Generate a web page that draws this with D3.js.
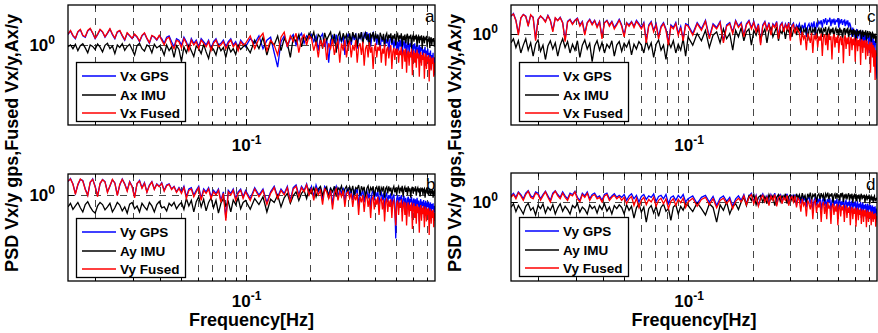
<!DOCTYPE html>
<html><head><meta charset="utf-8">
<script src="https://cdn.jsdelivr.net/npm/d3@7"></script>
<style>body{margin:0;background:#fff}svg{display:block;font-family:"Liberation Sans",Arial,Helvetica,sans-serif}</style>
</head><body><svg id="chart" width="878" height="333"></svg>
<script>
// ---------- data ----------
const freqRange = [0.0149, 0.762];   // Hz, plotted span
const splitFreq = 0.1;               // low part: log-spaced samples, high part: linear bins
const gridFreqs = [0.02,0.03,0.04,0.05,0.06,0.07,0.08,0.09,0.1,0.2,0.3,0.4,0.5,0.6,0.7];
const xTickValues = [0.1];
const yTickValues = [1];
const panelLetters = ["a","b","c","d"];
const legendX = ["Vx GPS","Ax IMU","Vx Fused"];
const legendY = ["Vy GPS","Ay IMU","Vy Fused"];
const xLabel = "Frequency[Hz]";
const yLabel = "PSD Vx/y gps,Fused Vx/y,Ax/y";
const seriesColors = ["#0000ff","#000000","#ff0000"];

// panel a
const aGPS_low = [1.35,1.5,1.3,1.2,1.45,1.55,1.3,1.25,1.5,1.6,1.4,1.2,1.35,1.55,1.45,1.25,1.4,1.58,1.35,1.2,1.45,1.5,1.3,1.15,1.4,1.3,1.2,1.35,1.25,1.1,1.3,1.4,1.2,1.05,1.3,1.25,1.15,1.3,
 1.2,1.05,1.25,1.3,1.1,0.95,1.2,1.15,1.0,1.25,1.1,0.9,1.2,1.05,1.15,0.95,1.2,1.1,1.0,1.15,0.9,1.1,1.2,1.0,1.05,1.15,0.95,1.1,1.2,1.0,1.1,0.9,1.15,1.05];
const aGPS_high = [0.95,1.2,1.05,1.3,0.9,1.15,1.25,0.8,0.53,1.1,1.3,0.95,1.2,1.35,1.0,1.25,1.4,1.05,1.3,1.2,
 1.35,1.1,1.3,0.85,1.25,1.38,0.95,1.2,0.6,1.15,1.3,1.05,1.35,0.9,1.25,1.1,1.3,0.75,1.2,1.35,
 1.25,1.0,1.35,1.15,1.4,0.9,1.3,1.2,1.45,1.05,1.38,1.25,1.45,1.1,1.4,0.95,1.3,1.42,1.15,1.35,1.0,1.3,1.2,0.85,1.25,1.1,1.3,0.95,1.2,1.05,1.25,0.8,1.15,1.25,1.0,1.2,0.9,1.1,1.2,0.85,
 1.1,0.85,1.15,0.95,1.2,0.75,1.05,1.1,0.9,1.15,0.7,1.0,1.1,0.8,1.05,0.95,1.12,0.65,1.0,0.9,1.05,0.75,0.95,1.0,0.7,0.9,1.0,0.6,0.95,0.85,0.92,0.65,0.88,0.8,0.95,0.55,0.85,0.75,0.9,0.6,0.8,0.7,0.85,0.5,0.75,0.65,0.8,0.45,0.7,0.42];
const aIMU_low = [0.95,1.0,0.9,1.02,0.85,0.98,1.04,0.92,0.8,1.0,0.96,0.88,1.03,0.94,0.82,0.99,1.05,0.9,0.97,0.78,1.0,0.93,1.04,0.86,0.96,1.02,0.88,0.75,0.98,1.05,0.9,0.84,1.0,0.95,0.8,1.02,0.92,0.97,
 0.9,0.75,1.0,0.85,0.95,0.7,0.98,0.88,0.62,0.95,0.8,1.0,0.85,0.72,0.97,0.9,0.78,1.02,0.82,0.68,0.95,0.88,0.75,1.0,0.85,0.93,0.7,0.98,0.82,0.9,0.76,1.0,0.88,0.95];
const aIMU_high = [1.0,0.8,1.15,0.9,1.25,0.75,1.1,1.0,1.3,0.85,1.2,1.05,0.7,1.25,1.1,1.35,0.95,1.3,1.15,1.4,
 1.2,1.45,1.0,1.35,1.25,0.9,1.42,1.15,1.3,1.45,1.05,1.38,0.8,1.3,1.45,1.1,1.4,1.2,1.35,0.95,
 1.4,1.1,1.45,1.25,1.35,0.95,1.4,1.2,1.45,1.05,1.3,1.42,1.15,1.38,0.9,1.35,1.25,1.45,1.1,1.4,1.2,1.35,1.0,1.42,1.28,1.15,1.38,0.95,1.3,1.4,1.1,1.35,1.22,1.4,1.05,1.32,1.2,1.38,1.0,1.3,
 1.38,1.1,1.32,1.2,1.4,0.95,1.3,1.15,1.35,1.05,1.28,1.38,1.0,1.3,1.2,1.35,0.9,1.25,1.32,1.1,1.3,1.18,1.35,0.95,1.25,1.3,1.05,1.28,1.15,1.32,0.9,1.2,1.3,1.05,1.25,1.15,1.3,0.95,1.2,1.1,1.28,0.92,1.18,1.25,1.0,1.2,1.1,1.22,0.95,1.15];
const aFused_low = [1.37,1.52,1.32,1.22,1.47,1.57,1.32,1.27,1.52,1.62,1.42,1.22,1.37,1.57,1.47,1.27,1.42,1.6,1.37,1.22,1.47,1.52,1.32,1.17,1.42,1.32,1.22,1.37,1.27,1.12,1.32,1.42,1.22,1.07,1.32,1.27,1.17,1.32,
 1.15,1.0,1.2,1.25,1.0,0.9,1.15,1.1,0.92,1.2,1.05,0.85,1.15,1.0,1.1,0.9,1.15,1.05,0.95,1.1,0.85,1.05,1.15,0.95,1.0,1.1,0.9,1.05,1.15,0.95,1.05,0.85,1.1,1.0];
const aFused_high = [1.05,1.3,0.9,1.2,1.4,0.85,1.15,1.0,0.75,1.25,1.45,0.95,1.3,1.1,1.4,0.8,1.2,1.35,1.0,1.3,
 1.2,0.85,1.1,0.7,1.15,0.95,1.2,0.65,1.05,0.9,1.18,0.75,1.0,1.12,0.6,1.05,0.85,1.15,0.7,1.0,
 1.1,0.7,1.0,0.85,1.15,0.6,0.95,1.05,0.75,1.1,0.55,0.9,1.0,0.7,1.08,0.8,0.95,0.5,0.9,1.05,0.7,0.95,0.85,1.0,0.6,0.9,0.78,1.02,0.55,0.88,0.95,0.68,0.85,1.0,0.5,0.82,0.92,0.65,0.9,0.75,
 0.9,0.6,0.85,0.75,0.95,0.5,0.8,0.88,0.62,0.9,0.45,0.78,0.85,0.55,0.82,0.7,0.9,0.42,0.75,0.85,0.6,0.8,0.52,0.88,0.68,0.78,0.4,0.72,0.82,0.55,0.75,0.65,0.8,0.38,0.7,0.78,0.5,0.72,0.62,0.75,0.35,0.65,0.72,0.48,0.68,0.58,0.7,0.4,0.6,0.45];

// panel b
const bGPS_low = [1.5,1.65,1.4,1.05,1.35,1.6,1.55,1.2,1.0,1.45,1.62,1.3,0.98,1.4,1.6,1.5,1.1,1.3,1.58,1.45,1.0,1.35,1.62,1.4,1.15,1.5,1.3,0.95,1.4,1.55,1.25,1.45,1.1,1.35,1.5,1.2,1.4,1.3,1.45,1.15,1.35,1.4,1.2,1.3,1.1,1.25,
 1.1,1.3,0.95,1.2,1.25,1.0,1.15,1.3,0.9,1.2,1.1,1.25,0.95,1.15,1.05,1.2,0.85,1.1,0.5,1.15,1.05,1.2,0.9,1.1,1.2,0.95];
const bGPS_high = [1.15,0.9,1.25,1.0,1.2,0.8,1.1,1.3,0.95,1.2,1.05,1.3,0.85,1.25,1.35,1.0,1.3,1.15,1.4,1.05,
 1.3,0.95,1.35,1.1,1.25,0.85,1.3,1.2,1.0,1.25,0.75,1.15,1.3,0.95,1.2,1.05,1.25,0.8,1.15,1.2,
 1.0,1.2,0.85,1.15,1.05,1.22,0.7,1.1,1.0,1.18,0.8,1.05,1.15,0.9,1.1,0.65,1.05,1.15,0.85,1.1,0.95,1.12,0.75,1.0,1.08,0.85,1.05,0.6,0.98,1.05,0.8,1.0,0.9,1.05,0.7,0.95,1.0,0.78,0.27,0.9,
 1.0,0.75,0.95,0.85,1.0,0.6,0.9,0.98,0.72,0.92,0.55,0.88,0.95,0.7,0.9,0.8,0.95,0.5,0.85,0.9,0.68,0.88,0.6,0.92,0.75,0.85,0.45,0.8,0.88,0.62,0.82,0.72,0.86,0.5,0.78,0.84,0.6,0.8,0.7,0.82,0.48,0.75,0.8,0.58,0.76,0.66,0.78,0.5,0.72,0.6];
const bIMU_low = [0.7,0.78,0.65,0.72,0.8,0.68,0.6,0.75,0.82,0.7,0.62,0.58,0.72,0.8,0.75,0.64,0.7,0.78,0.6,0.68,0.8,0.74,0.62,0.7,0.58,0.76,0.8,0.66,0.72,0.6,0.78,0.7,0.64,0.8,0.72,0.6,0.75,0.82,0.68,0.7,0.62,0.78,0.72,0.8,0.66,0.74,
 0.8,0.65,0.9,0.72,0.85,0.6,0.82,0.95,0.7,0.88,0.62,0.8,0.92,0.68,0.85,0.58,0.78,0.9,0.72,0.82,0.6,0.86,0.75,0.92,0.66,0.8];
const bIMU_high = [0.85,0.65,0.9,0.75,0.95,0.6,0.88,0.8,1.0,0.7,0.92,1.05,0.78,0.98,1.1,0.85,1.05,1.15,0.9,1.2,
 1.05,1.25,0.95,1.2,1.3,1.0,1.15,1.28,0.9,1.22,1.1,1.3,0.95,1.25,1.15,1.32,1.0,1.2,1.3,1.05,
 1.28,1.1,1.32,0.95,1.25,1.2,1.35,1.0,1.3,1.15,1.28,0.9,1.22,1.32,1.05,1.25,1.15,1.3,0.95,1.2,1.28,1.1,1.32,1.0,1.25,1.15,1.3,0.92,1.22,1.28,1.05,1.3,1.12,1.25,0.98,1.2,1.3,1.08,1.25,1.0,
 1.22,1.3,1.05,1.25,1.15,1.32,0.95,1.2,1.28,1.1,1.25,1.0,1.3,1.15,1.22,0.92,1.2,1.28,1.05,1.22,1.12,1.3,0.98,1.18,1.25,1.08,1.22,0.95,1.2,1.15,1.25,1.0,1.18,1.22,0.92,1.15,1.2,1.05,1.18,0.98,1.12,1.2,1.0,1.15,1.08,1.18,0.92,1.1,1.15,1.0];
const bFused_low = [1.52,1.62,1.38,1.02,1.38,1.62,1.52,1.18,0.98,1.48,1.6,1.28,0.95,1.42,1.58,1.48,1.08,1.32,1.6,1.42,0.98,1.38,1.6,1.38,1.12,1.48,1.28,0.92,1.42,1.52,1.22,1.42,1.08,1.32,1.48,1.18,1.38,1.28,1.42,1.12,1.32,1.38,1.18,1.28,1.08,1.22,
 1.05,1.25,0.9,1.15,1.2,0.95,1.1,1.25,0.85,1.15,1.05,1.2,0.9,1.1,1.0,1.15,0.8,1.05,0.46,1.1,1.0,1.15,0.85,1.05,1.15,0.9];
const bFused_high = [1.1,0.85,1.2,0.95,1.15,0.75,1.05,1.25,0.9,1.15,1.0,1.25,0.8,1.2,1.3,0.95,1.25,1.1,1.35,1.0,
 1.2,0.85,1.25,1.0,1.15,0.75,1.2,1.1,0.9,1.15,0.65,1.05,1.2,0.85,1.1,0.95,1.15,0.7,1.05,1.1,
 0.9,1.05,0.7,1.0,0.85,1.05,0.55,0.95,0.8,1.0,0.6,0.9,0.98,0.7,0.92,0.5,0.88,0.95,0.65,0.9,0.75,0.95,0.55,0.85,0.9,0.65,0.88,0.45,0.8,0.9,0.6,0.85,0.7,0.88,0.5,0.8,0.85,0.62,0.4,0.78,
 0.85,0.55,0.8,0.68,0.88,0.45,0.75,0.82,0.55,0.8,0.4,0.72,0.8,0.52,0.75,0.62,0.8,0.36,0.7,0.78,0.5,0.72,0.42,0.76,0.58,0.7,0.32,0.66,0.74,0.46,0.68,0.56,0.72,0.38,0.64,0.7,0.45,0.66,0.55,0.68,0.3,0.6,0.66,0.42,0.62,0.5,0.64,0.38,0.58,0.46];

// panel c
const cGPS_low = [1.7,1.85,1.5,1.0,1.6,1.8,1.7,1.3,1.75,1.65,0.85,1.55,1.7,1.6,1.45,1.75,1.5,1.1,1.6,1.5,1.65,1.4,0.82,1.45,1.55,1.35,1.5,1.6,1.3,1.45,1.0,1.4,1.55,1.35,1.5,1.25,1.45,0.9,1.4,1.5,1.3,1.45,1.2,1.35,1.55,1.3,0.95,1.4,1.3,1.45,1.25,1.5,1.35,
 1.2,1.4,0.8,1.3,1.45,1.1,1.35,0.9,1.25,1.4,1.15,0.75,1.3,1.2,1.4,1.0,1.25,0.85,1.35];
const cGPS_high = [1.3,1.0,1.4,1.15,1.5,0.9,1.35,1.2,1.45,0.8,1.3,1.4,1.05,1.5,1.25,1.4,0.95,1.35,1.5,1.2,1.45,1.1,1.35,0.75,1.3,1.45,1.15,1.4,1.0,1.35,1.25,1.45,0.9,1.3,1.4,1.1,1.35,1.2,1.42,0.85,1.3,1.38,1.05,1.3,1.2,
 1.35,1.0,1.3,1.15,1.4,0.9,1.25,1.35,1.1,1.4,1.2,1.45,0.95,1.35,1.25,1.45,
 1.35,1.5,1.2,1.55,1.4,1.6,1.3,1.5,1.45,1.62,1.25,1.55,1.4,1.58,1.3,1.5,1.45,1.6,1.2,1.5,1.4,1.55,1.3,1.45,1.5,1.25,1.45,1.35,1.5,1.2,1.4,1.3,
 1.15,0.9,1.2,1.0,1.1,0.75,1.05,1.15,0.85,1.05,0.95,1.1,0.7,1.0,1.05,0.8,1.0,0.65,0.95,1.02,0.75,0.9,0.85,0.98,0.55,0.88,0.95,0.7,0.85,0.6,0.9,0.45,0.8,0.7,0.82,0.35,0.25];
const cIMU_low = [0.75,0.85,0.65,0.8,0.55,0.7,0.85,0.6,0.75,0.5,0.72,0.82,0.58,0.7,0.45,0.68,0.8,0.62,0.75,0.5,0.7,0.85,0.65,0.78,0.55,0.72,0.6,0.8,0.48,0.7,0.82,0.62,0.74,0.42,0.68,0.8,0.6,0.76,0.55,0.72,0.64,0.8,0.5,0.7,0.78,0.58,0.74,0.66,0.8,0.52,0.72,0.62,0.78,
 0.7,0.55,0.8,0.62,0.75,0.48,0.72,0.82,0.6,0.7,0.45,0.78,0.65,0.8,0.55,0.72,0.6,0.85,0.5];
const cIMU_high = [0.9,0.7,1.0,0.8,1.1,0.65,0.95,1.05,0.75,1.15,0.85,1.0,0.6,1.1,0.9,1.2,0.8,1.05,1.15,0.7,1.1,0.95,1.2,0.85,1.0,1.15,0.75,1.1,1.2,0.9,1.05,1.22,0.8,1.1,1.0,1.2,0.85,1.15,1.05,1.22,0.9,1.1,1.18,0.95,1.2,
 1.1,1.22,0.9,1.15,1.05,1.2,0.8,1.12,1.2,0.95,1.15,1.05,1.22,0.85,1.1,1.18,1.0,1.2,0.9,1.15,1.08,1.22,0.82,1.12,1.2,0.95,1.15,1.05,1.2,0.88,1.1,1.18,1.0,1.15,0.92,1.2,1.05,1.12,0.8,1.1,1.18,0.95,1.12,1.05,1.2,0.85,1.08,1.15,0.98,1.12,0.9,1.15,1.02,1.1,0.78,1.05,1.12,0.92,1.08,1.0,1.12,0.82,1.02,1.1,0.9,1.05,0.95,1.1,0.8,1.0,1.08,0.88,1.02,0.95,1.05,0.78,0.98,1.02,0.85,0.95,0.9,1.0,0.75,0.92,0.88];
const cFused_low = [1.72,1.82,1.48,0.95,1.62,1.78,1.68,1.25,1.78,1.62,0.8,1.52,1.72,1.58,1.42,1.72,1.48,1.05,1.62,1.48,1.62,1.38,0.78,1.42,1.52,1.32,1.48,1.58,1.25,1.42,0.95,1.38,1.52,1.3,1.48,1.2,1.42,0.85,1.38,1.48,1.25,1.42,1.15,1.3,1.5,1.25,0.9,1.38,1.25,1.42,1.2,1.45,1.3,
 1.15,1.35,0.75,1.25,1.4,1.05,1.3,0.85,1.2,1.35,1.1,0.7,1.25,1.15,1.35,0.95,1.2,0.8,1.3];
const cFused_high = [1.25,0.95,1.35,1.1,1.45,0.85,1.3,1.15,1.4,0.75,1.25,1.35,1.0,1.45,1.2,1.35,0.9,1.3,1.45,1.15,1.4,1.05,1.3,0.7,1.25,1.4,1.1,1.35,0.95,1.3,1.2,1.4,0.85,1.25,1.35,1.05,1.3,1.15,1.38,0.8,1.25,1.32,1.0,1.2,1.1,
 1.0,0.7,1.05,0.85,0.95,0.6,1.0,0.9,0.75,1.02,0.55,0.95,0.85,1.0,0.65,0.92,0.8,1.0,0.5,0.9,0.98,0.7,0.95,0.6,1.0,0.82,0.92,0.45,0.88,0.98,0.65,0.9,0.75,0.95,0.55,0.85,0.92,0.7,0.88,0.4,0.85,0.95,0.62,0.88,0.72,0.9,0.5,0.82,0.9,0.6,0.85,0.7,0.88,0.42,0.8,0.86,0.58,0.82,0.68,0.85,0.38,0.78,0.84,0.55,0.8,0.65,0.82,0.45,0.75,0.8,0.5,0.72,0.6,0.78,0.3,0.7,0.76,0.48,0.7,0.36,0.65,0.24,0.6,0.5,0.55];

// panel d
const dGPS_low = [1.2,1.3,1.15,1.35,1.25,1.1,1.3,1.4,1.2,1.15,1.35,1.3,1.1,1.25,1.38,1.2,1.05,1.3,1.4,1.25,1.15,1.35,1.2,1.1,1.3,1.25,1.38,1.15,1.05,1.3,1.2,1.35,1.1,1.25,1.3,1.15,1.2,1.05,1.25,1.3,1.1,1.2,1.28,1.15,1.22,
 1.15,1.25,1.05,1.2,1.28,1.1,1.22,1.0,1.18,1.25,1.08,1.2,1.15,1.27,1.02,1.18,1.22,1.1,1.25,0.95,1.15,1.2,1.05,1.22,1.12,1.25,1.0];
const dGPS_high = [1.1,1.2,0.95,1.15,1.22,1.0,1.18,0.9,1.12,1.2,1.02,1.15,0.88,1.1,1.2,
 1.05,1.25,0.95,1.2,1.3,1.0,1.22,0.9,1.15,1.28,1.05,1.2,0.95,1.25,1.1,1.3,0.92,1.18,1.25,1.0,1.2,1.1,1.28,0.95,1.15,1.22,1.05,1.25,0.9,1.2,
 1.15,0.95,1.2,1.05,1.15,0.85,1.1,1.18,0.95,1.12,0.8,1.05,1.15,0.9,1.1,1.0,1.15,0.78,1.05,1.12,0.9,1.08,0.82,1.1,0.98,1.12,0.75,1.05,1.1,0.88,1.05,0.95,1.1,0.72,1.0,1.08,0.85,1.02,0.92,1.08,0.7,1.0,1.05,0.82,1.0,0.9,1.05,0.68,0.98,1.02,0.8,0.98,0.88,1.02,0.65,0.95,1.0,0.78,0.95,0.85,1.0,0.62,0.92,0.98,0.75,0.92,0.82,0.95,0.6,0.88,0.95,0.72,0.9,0.8,0.92,0.58,0.85,0.9,0.7,0.86,0.62,0.88,0.55,0.82,0.7];
const dIMU_low = [0.85,0.95,0.75,0.9,0.8,0.7,0.88,0.96,0.78,0.85,0.68,0.9,0.82,0.94,0.72,0.86,0.78,0.92,0.7,0.84,0.95,0.76,0.88,0.8,0.7,0.9,0.84,0.96,0.74,0.86,0.8,0.7,0.92,0.82,0.88,0.72,0.9,0.8,0.95,0.76,0.86,0.7,0.9,0.82,0.92,
 0.85,0.7,0.92,0.78,0.88,0.62,0.84,0.95,0.74,0.86,0.55,0.82,0.9,0.72,0.88,0.65,0.85,0.94,0.76,0.82,0.58,0.86,0.92,0.7,0.88,0.78,0.95];
const dIMU_high = [0.9,0.75,0.98,0.82,0.68,0.95,0.85,0.55,0.92,0.78,1.0,0.7,0.88,0.95,0.8,
 1.0,1.15,0.9,1.2,1.05,1.25,0.92,1.15,1.22,1.0,1.18,0.95,1.25,1.08,1.2,0.9,1.15,1.25,1.02,1.2,1.1,1.28,0.95,1.18,1.25,1.05,1.2,0.98,1.28,1.12,
 1.25,1.05,1.3,1.12,1.22,0.98,1.28,1.15,1.32,1.05,1.25,1.18,1.3,1.0,1.22,1.28,1.1,1.3,1.15,1.25,1.02,1.28,1.18,1.32,1.08,1.25,1.2,1.3,0.98,1.22,1.28,1.1,1.3,1.15,1.25,1.05,1.3,1.2,1.32,1.0,1.25,1.15,1.28,1.08,1.22,1.3,1.05,1.25,1.15,1.28,0.98,1.2,1.25,1.1,1.28,1.02,1.22,1.15,1.25,1.0,1.2,1.28,1.08,1.22,1.12,1.25,0.98,1.18,1.22,1.05,1.2,1.1,1.25,0.95,1.15,1.2,1.05,1.18,1.0,1.15,1.2,1.02,1.12,1.05,1.15];
const dFused_low = [1.15,1.25,1.1,1.32,1.2,1.05,1.25,1.38,1.15,1.1,1.3,1.25,1.05,1.2,1.35,1.15,1.0,1.25,1.38,1.2,1.1,1.3,1.15,1.05,1.25,1.2,1.35,1.1,1.0,1.25,1.15,1.3,1.05,1.2,1.25,1.1,1.15,1.0,1.2,1.25,1.05,1.15,1.22,1.1,1.18,
 1.05,1.15,0.95,1.1,1.18,0.9,1.12,0.85,1.05,1.15,0.92,1.08,1.0,1.15,0.88,1.05,1.12,0.95,1.1,0.82,1.02,1.1,0.9,1.08,0.98,1.12,0.85];
const dFused_high = [1.0,1.12,0.88,1.08,1.15,0.92,1.1,0.84,1.05,1.12,0.95,1.08,0.82,1.02,1.12,
 1.0,1.2,0.92,1.15,1.25,0.95,1.18,0.88,1.1,1.22,1.0,1.15,0.9,1.2,1.05,1.25,0.88,1.12,1.2,0.95,1.15,1.05,1.22,0.9,1.1,1.18,1.0,1.2,0.85,1.12,
 1.05,0.75,1.1,0.9,1.0,0.65,1.05,0.95,0.8,1.08,0.6,0.98,1.05,0.72,0.95,0.85,1.02,0.55,0.92,1.0,0.7,0.95,0.6,1.0,0.82,0.9,0.52,0.88,0.96,0.68,0.9,0.75,0.95,0.5,0.85,0.92,0.65,0.88,0.78,0.92,0.55,0.82,0.9,0.62,0.85,0.72,0.88,0.5,0.8,0.86,0.6,0.82,0.7,0.85,0.48,0.78,0.84,0.58,0.8,0.68,0.82,0.52,0.75,0.8,0.55,0.78,0.65,0.8,0.47,0.72,0.78,0.55,0.74,0.62,0.76,0.5,0.7,0.75,0.55,0.7,0.6,0.72,0.48,0.66,0.6];

// ---------- layout ----------
const panels = [
  {id:"a", x0:68,  x1:435, y0:5,   y1:125, yLog:[-1,0.5],       series:[[aGPS_low,aGPS_high],[aIMU_low,aIMU_high],[aFused_low,aFused_high]], legend:legendX, letter:panelLetters[0], lx:425, ly:22,  showXLabel:false},
  {id:"b", x0:68,  x1:435, y0:174, y1:281, yLog:[-1.125,0.275], series:[[bGPS_low,bGPS_high],[bIMU_low,bIMU_high],[bFused_low,bFused_high]], legend:legendY, letter:panelLetters[1], lx:426, ly:190, showXLabel:true},
  {id:"c", x0:511, x1:877, y0:5,   y1:125, yLog:[-1.22,0.38],   series:[[cGPS_low,cGPS_high],[cIMU_low,cIMU_high],[cFused_low,cFused_high]], legend:legendX, letter:panelLetters[2], lx:867, ly:22,  showXLabel:false},
  {id:"d", x0:511, x1:877, y0:173, y1:281, yLog:[-1.024,0.376], series:[[dGPS_low,dGPS_high],[dIMU_low,dIMU_high],[dFused_low,dFused_high]], legend:legendY, letter:panelLetters[3], lx:866, ly:190, showXLabel:true}
];

const svg = d3.select("#chart");
const defs = svg.append("defs");
const lf0 = Math.log10(freqRange[0]), lfs = Math.log10(splitFreq);

function toPoints(low, high) {
  const pts = low.map((v,i) => [Math.pow(10, lf0 + (lfs-lf0)*i/low.length), v]);
  const m = high.length;
  high.forEach((v,i) => pts.push([splitFreq + (freqRange[1]-splitFreq)*i/(m-1), v]));
  return pts;
}

panels.forEach(p => {
  const x = d3.scaleLog().domain(freqRange).range([p.x0, p.x1]);
  const y = d3.scaleLog().domain(p.yLog.map(e=>Math.pow(10,e))).range([p.y1, p.y0]);
  const g = svg.append("g");

  defs.append("clipPath").attr("id","clip-"+p.id)
    .append("rect").attr("x",p.x0).attr("y",p.y0).attr("width",p.x1-p.x0).attr("height",p.y1-p.y0);

  // dashed grid
  g.append("g").selectAll("line").data(gridFreqs).join("line")
    .attr("x1",d=>Math.round(x(d))+0.5).attr("x2",d=>Math.round(x(d))+0.5)
    .attr("y1",p.y0).attr("y2",p.y1)
    .attr("stroke","#333").attr("stroke-width",0.9).attr("stroke-dasharray","7,6");
  g.append("g").selectAll("line").data(yTickValues).join("line")
    .attr("x1",p.x0).attr("x2",p.x1)
    .attr("y1",d=>Math.round(y(d))+0.5).attr("y2",d=>Math.round(y(d))+0.5)
    .attr("stroke","#333").attr("stroke-width",0.9).attr("stroke-dasharray","7,6");

  // series
  const lines = g.append("g").attr("clip-path","url(#clip-"+p.id+")");
  const lineGen = d3.line().x(d=>x(d[0])).y(d=>y(d[1]));
  p.series.forEach((s, k) => {
    lines.append("path").datum(toPoints(s[0], s[1]))
      .attr("fill","none").attr("stroke",seriesColors[k]).attr("stroke-width",1.3)
      .attr("stroke-linejoin","miter").attr("d", lineGen);
  });

  // inward ticks
  const tk = g.append("g").attr("stroke","#000").attr("stroke-width",1);
  gridFreqs.forEach(f => {
    const len = xTickValues.includes(f) ? 6 : 3.5;
    const xx = Math.round(x(f))+0.5;
    tk.append("line").attr("x1",xx).attr("x2",xx).attr("y1",p.y1).attr("y2",p.y1-len);
    tk.append("line").attr("x1",xx).attr("x2",xx).attr("y1",p.y0).attr("y2",p.y0+len);
  });
  yTickValues.forEach(v => {
    const yy = Math.round(y(v))+0.5;
    tk.append("line").attr("x1",p.x0).attr("x2",p.x0+6).attr("y1",yy).attr("y2",yy);
    tk.append("line").attr("x1",p.x1).attr("x2",p.x1-6).attr("y1",yy).attr("y2",yy);
  });

  // box
  g.append("rect").attr("x",p.x0).attr("y",p.y0).attr("width",p.x1-p.x0).attr("height",p.y1-p.y0)
    .attr("fill","none").attr("stroke","#000").attr("stroke-width",1.3);

  // y tick labels
  yTickValues.forEach(v => {
    const t = g.append("text").attr("x",p.x0-13).attr("y",y(v)+6)
      .attr("text-anchor","end").attr("font-size",17).attr("font-weight","bold");
    t.append("tspan").text("10");
    t.append("tspan").attr("font-size",12).attr("dy",-7).text(Math.round(Math.log10(v)));
  });
  // x tick labels
  xTickValues.forEach(f => {
    const t = g.append("text").attr("x",x(f)+1).attr("y",p.y1+26)
      .attr("text-anchor","middle").attr("font-size",17).attr("font-weight","bold");
    t.append("tspan").text("10");
    t.append("tspan").attr("font-size",12).attr("dy",-7).text(Math.round(Math.log10(f)));
  });

  // panel letter
  g.append("text").attr("x",p.lx).attr("y",p.ly).attr("font-size",17).text(p.letter);

  // legend
  const lgX = p.x0 + 8, lgY = (p.y1-p.y0 === 120) ? p.y0 + 57 : p.y0 + 44;
  const lg = g.append("g");
  lg.append("rect").attr("x",lgX+0.5).attr("y",lgY+0.5).attr("width",109).attr("height",59)
    .attr("fill","#fff").attr("stroke","#000").attr("stroke-width",1.3);
  p.legend.forEach((name,k) => {
    const cy = Math.round(lgY + 14 + k*18.5);
    lg.append("line").attr("x1",lgX+6).attr("x2",lgX+40).attr("y1",cy).attr("y2",cy)
      .attr("stroke",seriesColors[k]).attr("stroke-width",1.6);
    lg.append("text").attr("x",lgX+44).attr("y",cy+5).attr("font-size",13.5).attr("font-weight","bold").text(name);
  });

  if (p.showXLabel) {
    g.append("text").attr("x",(p.x0+p.x1)/2).attr("y",326).attr("text-anchor","middle")
      .attr("font-size",18).attr("font-weight","bold").text(xLabel);
  }
});

// y axis titles, one per column
[18, 461].forEach(xx => {
  svg.append("text").attr("transform",`translate(${xx},143) rotate(-90)`)
    .attr("text-anchor","middle").attr("font-size",18).attr("font-weight","bold").text(yLabel);
});
</script>
</body></html>
